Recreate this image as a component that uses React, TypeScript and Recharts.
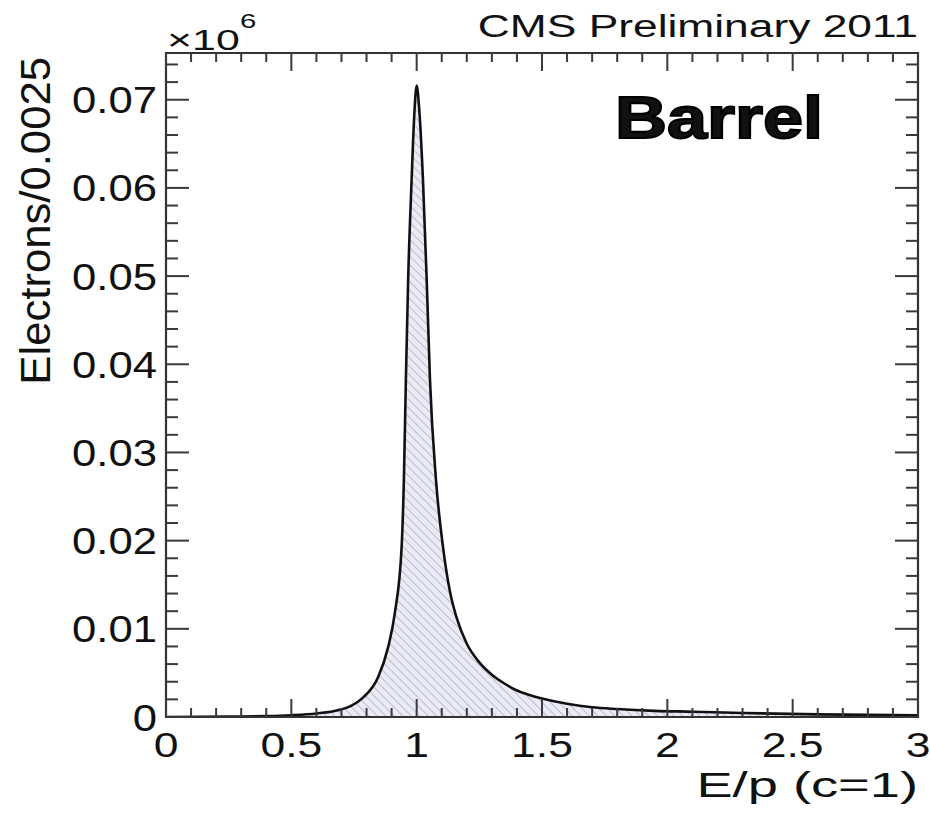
import { Area, AreaChart, ReferenceArea, XAxis, YAxis } from "recharts";

// E/p sample points and electron counts (x10^6 per 0.0025 bin)
const EP = [
  0, 0.25, 0.4, 0.5, 0.6, 0.69, 0.74, 0.786, 0.846, 0.886, 0.913, 0.94, 0.949, 0.957, 0.966,
  0.98, 0.99, 1.0, 1.01, 1.025, 1.04, 1.053, 1.077, 1.105, 1.133, 1.16, 1.2, 1.25, 1.3, 1.35,
  1.4, 1.45, 1.5, 1.6, 1.7, 1.8, 1.95, 2.1, 2.3, 2.6, 3.0,
];
const COUNTS = [
  0, 0.00005, 0.0001, 0.0002, 0.0004, 0.0008, 0.0013, 0.0022, 0.0045, 0.0079, 0.0118, 0.0193,
  0.0269, 0.0383, 0.0496, 0.061, 0.068, 0.0716, 0.069, 0.061, 0.0496, 0.0383, 0.0269, 0.0193,
  0.0142, 0.0112, 0.0083, 0.0062, 0.0048, 0.0038, 0.003, 0.0025, 0.0021, 0.0015, 0.0011, 0.0009,
  0.0007, 0.0006, 0.00045, 0.0003, 0.0002,
];

const X_TICKS = [
  0, 0.1, 0.2, 0.3, 0.4, 0.5, 0.6, 0.7, 0.8, 0.9, 1, 1.1, 1.2, 1.3, 1.4, 1.5, 1.6, 1.7, 1.8, 1.9,
  2, 2.1, 2.2, 2.3, 2.4, 2.5, 2.6, 2.7, 2.8, 2.9, 3,
];
const X_MAJOR = [0, 0.5, 1, 1.5, 2, 2.5, 3];
const X_LABELS = ["0", "0.5", "1", "1.5", "2", "2.5", "3"];

const Y_TICKS = [
  0, 0.002, 0.004, 0.006, 0.008, 0.01, 0.012, 0.014, 0.016, 0.018, 0.02, 0.022, 0.024, 0.026,
  0.028, 0.03, 0.032, 0.034, 0.036, 0.038, 0.04, 0.042, 0.044, 0.046, 0.048, 0.05, 0.052, 0.054,
  0.056, 0.058, 0.06, 0.062, 0.064, 0.066, 0.068, 0.07, 0.072, 0.074,
];
const Y_MAJOR = [0, 0.01, 0.02, 0.03, 0.04, 0.05, 0.06, 0.07];
const Y_LABELS = ["0", "0.01", "0.02", "0.03", "0.04", "0.05", "0.06", "0.07"];
const Y_MAX = 0.0753;

const W = 930;
const H = 814;
const PLOT_LEFT = 166;
const PLOT_RIGHT = 918;
const PLOT_TOP = 53;
const PLOT_BOTTOM = 717;

const FONT = '"Liberation Sans", Arial, Helvetica, sans-serif';
const TICK_COLOR = "#3a3a3a";

const data = EP.map((x, i) => ({ x, n: COUNTS[i] }));

function majorIndex(list: number[], v: number) {
  return list.findIndex((m) => Math.abs(m - v) < 1e-9);
}

function SText({
  x,
  y,
  size,
  sx = 1,
  anchor = "start",
  weight = 400,
  rotate = 0,
  stroke,
  children,
}: {
  x: number;
  y: number;
  size: number;
  sx?: number;
  anchor?: "start" | "middle" | "end";
  weight?: number;
  rotate?: number;
  stroke?: number;
  children: React.ReactNode;
}) {
  return (
    <text
      transform={`translate(${x},${y}) rotate(${rotate}) scale(${sx},1)`}
      textAnchor={anchor}
      fontFamily={FONT}
      fontSize={size}
      fontWeight={weight}
      fill="#111"
      stroke={stroke ? "#000" : undefined}
      strokeWidth={stroke}
    >
      {children}
    </text>
  );
}

function XTick(props: any) {
  const { x, payload } = props;
  const mi = majorIndex(X_MAJOR, payload.value);
  const len = mi >= 0 ? 18 : 9;
  return (
    <g>
      <line x1={x} x2={x} y1={PLOT_BOTTOM} y2={PLOT_BOTTOM - len} stroke={TICK_COLOR} strokeWidth={2} />
      <line x1={x} x2={x} y1={PLOT_TOP} y2={PLOT_TOP + len} stroke={TICK_COLOR} strokeWidth={2} />
      {mi >= 0 && (
        <SText x={x} y={757} size={35} sx={1.27} anchor="middle">
          {X_LABELS[mi]}
        </SText>
      )}
    </g>
  );
}

function YTick(props: any) {
  const { y, payload } = props;
  const mi = majorIndex(Y_MAJOR, payload.value);
  const len = mi >= 0 ? 23 : 12;
  return (
    <g>
      <line x1={PLOT_LEFT} x2={PLOT_LEFT + len} y1={y} y2={y} stroke={TICK_COLOR} strokeWidth={2} />
      <line x1={PLOT_RIGHT} x2={PLOT_RIGHT - len} y1={y} y2={y} stroke={TICK_COLOR} strokeWidth={2} />
      {mi >= 0 && (
        <SText x={157} y={y + 13.5} size={37} sx={1.18} anchor="end">
          {Y_LABELS[mi]}
        </SText>
      )}
    </g>
  );
}

export default function App() {
  return (
    <div style={{ width: W, height: H, background: "#fff" }}>
      <style>{"body{margin:0}"}</style>
      <AreaChart width={W} height={H} data={data} margin={{ top: PLOT_TOP, right: W - PLOT_RIGHT, bottom: 0, left: 0 }}>
        <defs>
          <pattern id="hatch" width="6" height="6" patternUnits="userSpaceOnUse" patternTransform="rotate(-45)">
            <rect width="6" height="6" fill="#ebebf6" />
            <line x1="0" y1="0" x2="0" y2="6" stroke="#a2a2c2" strokeWidth="1.3" />
          </pattern>
        </defs>
        <XAxis
          type="number"
          dataKey="x"
          domain={[0, 3]}
          ticks={X_TICKS}
          interval={0}
          allowDataOverflow
          axisLine={false}
          tickLine={false}
          tickSize={0}
          tickMargin={0}
          height={H - PLOT_BOTTOM}
          tick={XTick}
        />
        <YAxis
          type="number"
          domain={[0, Y_MAX]}
          ticks={Y_TICKS}
          interval={0}
          allowDataOverflow
          axisLine={false}
          tickLine={false}
          tickSize={0}
          tickMargin={0}
          width={PLOT_LEFT}
          tick={YTick}
        />
        <Area
          type="monotone"
          dataKey="n"
          stroke="#111"
          strokeWidth={2.6}
          fill="url(#hatch)"
          fillOpacity={1}
          isAnimationActive={false}
          dot={false}
          activeDot={false}
        />
        <ReferenceArea
          x1={0}
          x2={3}
          y1={0}
          y2={Y_MAX}
          fill="none"
          stroke="#333"
          strokeWidth={2.2}
          ifOverflow="visible"
        />
        <SText x={PLOT_RIGHT} y={37} size={31} sx={1.43} anchor="end">
          CMS Preliminary 2011
        </SText>
        <SText x={167} y={50} size={30} sx={1.43}>
          ×10
        </SText>
        <SText x={240} y={28} size={21} sx={1.4}>
          6
        </SText>
        <SText x={615} y={138} size={60} sx={1.2} weight={700} stroke={2}>
          Barrel
        </SText>
        <SText x={PLOT_RIGHT} y={797} size={35} sx={1.55} anchor="end">
          E/p (c=1)
        </SText>
        <SText x={50} y={57} size={42} sx={1.04} rotate={-90} anchor="end">
          Electrons/0.0025
        </SText>
      </AreaChart>
    </div>
  );
}
